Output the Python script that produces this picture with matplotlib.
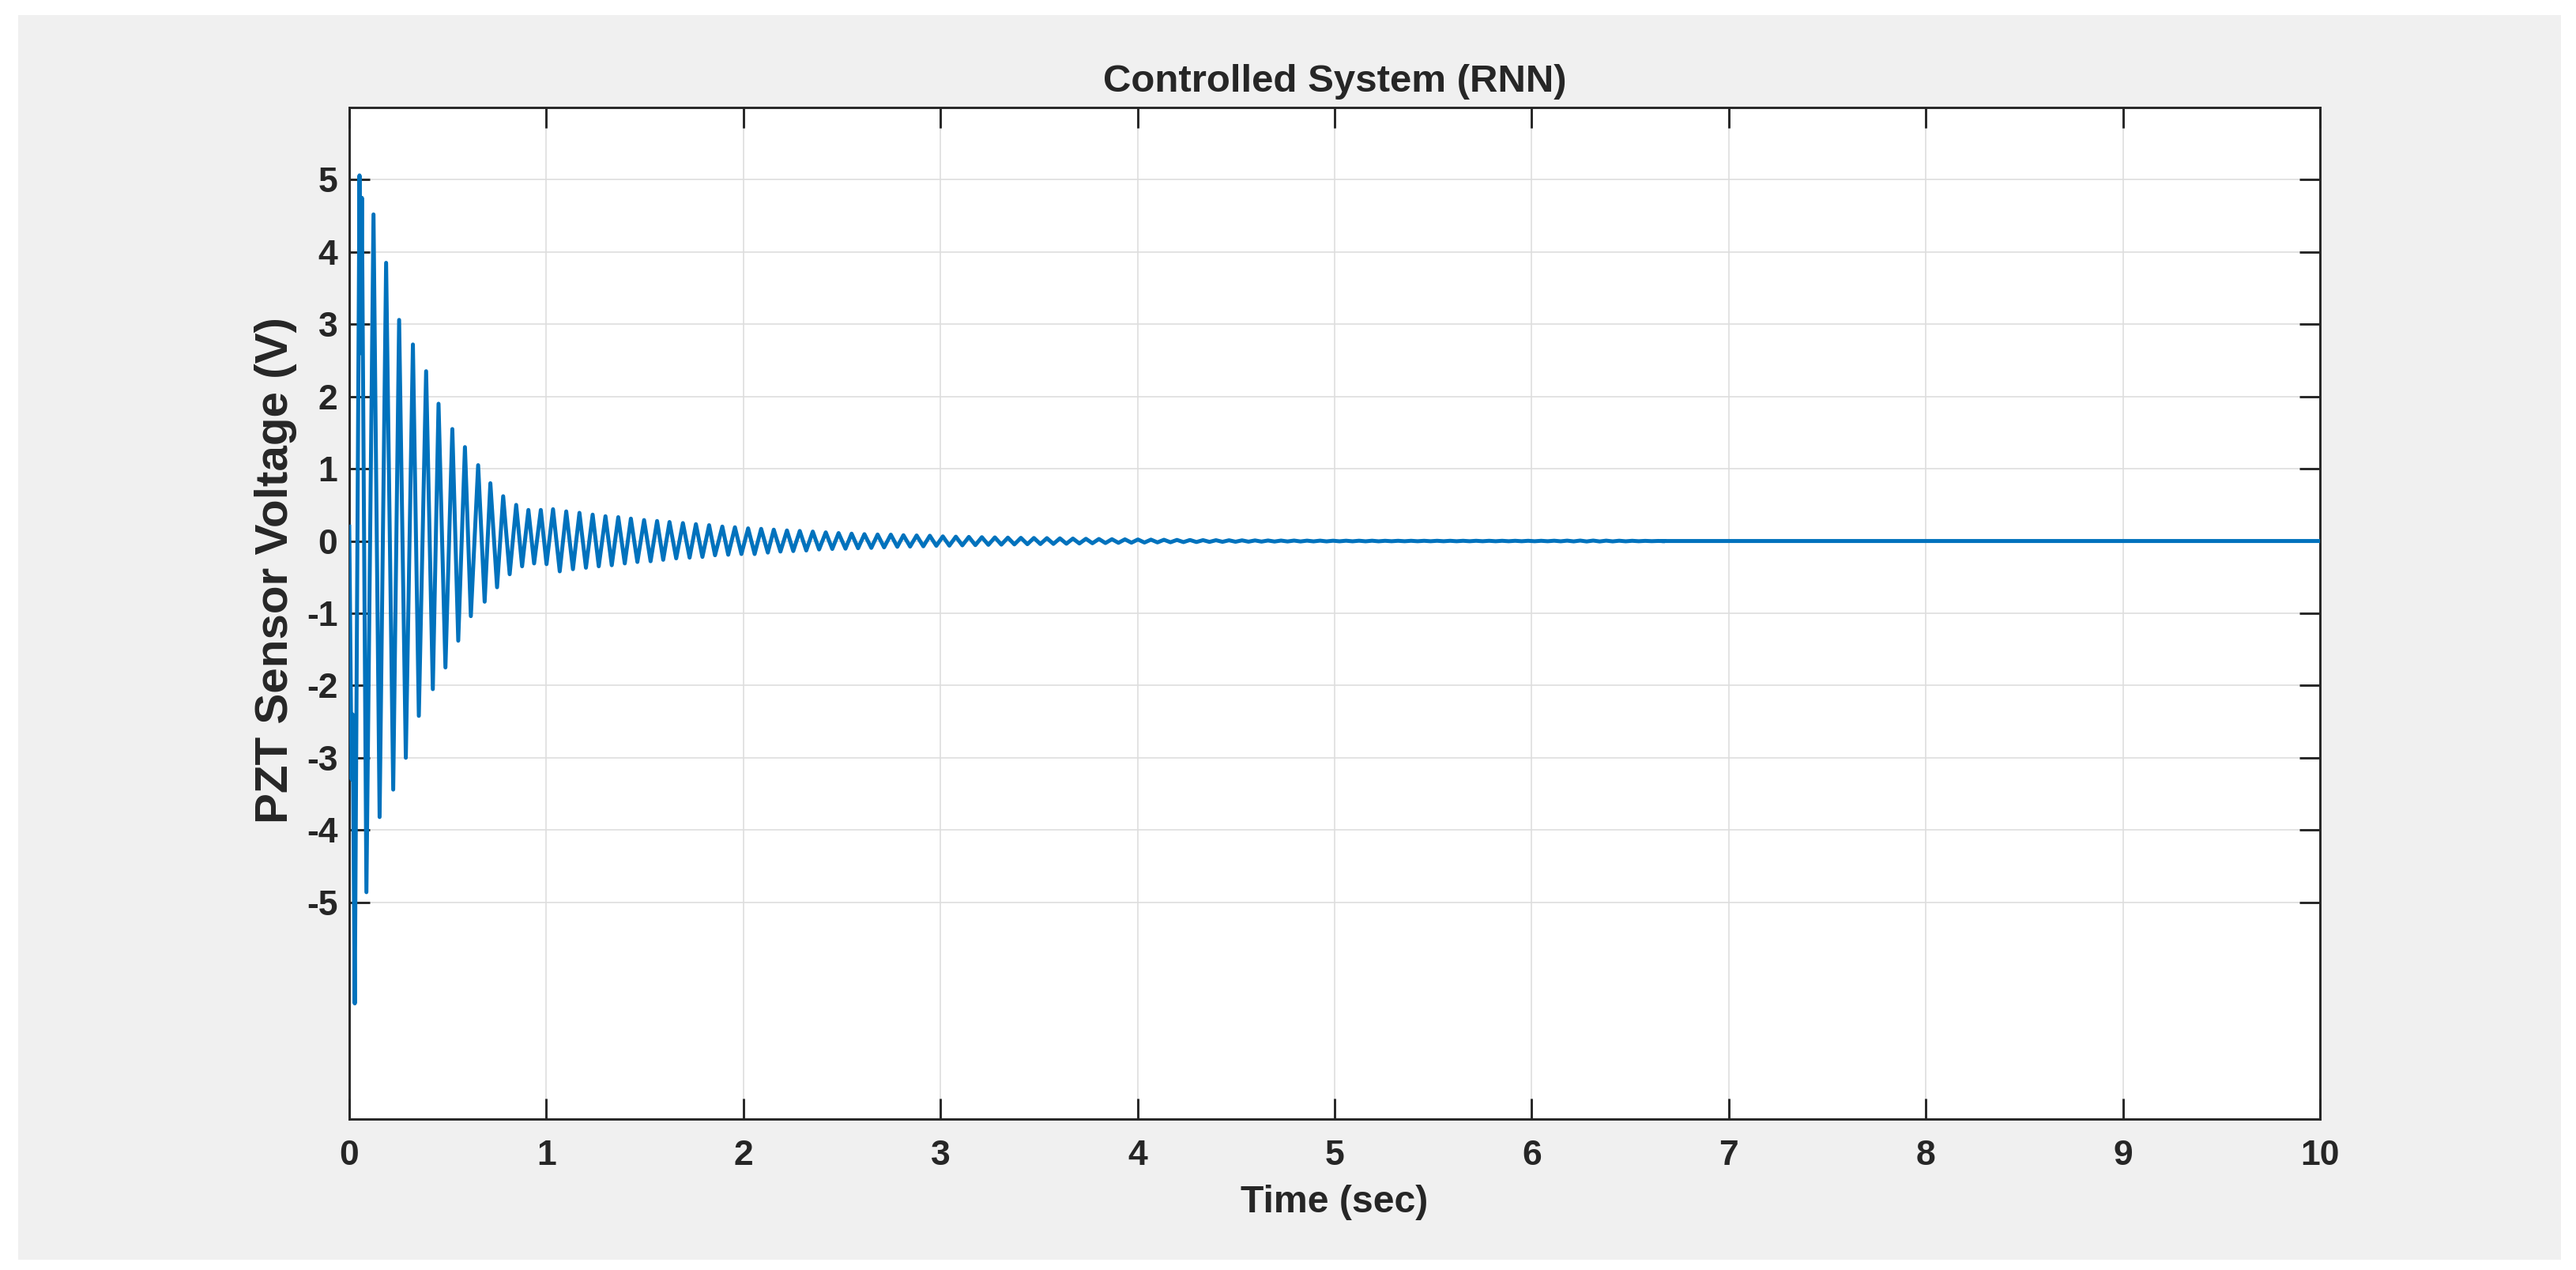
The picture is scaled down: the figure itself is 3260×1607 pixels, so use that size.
import numpy as np
import matplotlib
matplotlib.use('Agg')
import matplotlib.pyplot as plt
from matplotlib.patches import Rectangle

# ---------------- data ----------------
title_text = "Controlled System (RNN)"
x_label = "Time (sec)"
y_label = "PZT Sensor Voltage (V)"
x_ticks = [0, 1, 2, 3, 4, 5, 6, 7, 8, 9, 10]
y_ticks = [-5, -4, -3, -2, -1, 0, 1, 2, 3, 4, 5]
x_range = (0, 10)
y_range = (-8, 6)

# successive extremes of the response for 0 - 3 s (time [s], voltage [V])
early_t = [0.000, 0.012, 0.017, 0.028, 0.052, 0.058, 0.064, 0.087, 0.123, 0.154,
           0.187, 0.223, 0.253, 0.287, 0.323, 0.353, 0.390, 0.424, 0.453, 0.488,
           0.523, 0.553, 0.587, 0.617, 0.654, 0.687, 0.716, 0.750, 0.781, 0.814,
           0.847, 0.877, 0.909, 0.938, 0.972, 1.001, 1.034, 1.068, 1.101, 1.135,
           1.168, 1.201, 1.235, 1.266, 1.300, 1.332, 1.365, 1.398, 1.429, 1.462,
           1.496, 1.529, 1.562, 1.593, 1.625, 1.659, 1.693, 1.727, 1.759, 1.792,
           1.826, 1.856, 1.893, 1.923, 1.957, 1.990, 2.024, 2.057, 2.090, 2.124,
           2.154, 2.188, 2.221, 2.253, 2.286, 2.319, 2.352, 2.384, 2.418, 2.451,
           2.483, 2.518, 2.549, 2.582, 2.614, 2.649, 2.681, 2.714, 2.748, 2.781,
           2.812, 2.846, 2.879, 2.913, 2.946, 2.979]
early_v = [0.20, -3.30, -2.40, -6.40, 5.06, 2.60, 4.75, -4.86, 4.52, -3.82,
           3.85, -3.44, 3.06, -3.00, 2.72, -2.42, 2.35, -2.05, 1.90, -1.75,
           1.55, -1.38, 1.30, -1.04, 1.05, -0.84, 0.80, -0.64, 0.62, -0.46,
           0.50, -0.35, 0.43, -0.31, 0.43, -0.32, 0.44, -0.42, 0.41, -0.39,
           0.39, -0.37, 0.365, -0.35, 0.343, -0.335, 0.33, -0.31, 0.31, -0.29,
           0.29, -0.28, 0.277, -0.26, 0.263, -0.24, 0.248, -0.23, 0.233, -0.22,
           0.219, -0.197, 0.20, -0.19, 0.19, -0.18, 0.175, -0.18, 0.168, -0.16,
           0.157, -0.146, 0.146, -0.139, 0.139, -0.131, 0.131, -0.117, 0.12, -0.11,
           0.11, -0.106, 0.102, -0.10, 0.095, -0.095, 0.09, -0.088, 0.088, -0.08,
           0.08, -0.077, 0.077, -0.073, 0.073, -0.066]

# tail (3 s onwards): oscillation half-period
tail_start = 3.012
tail_half_period = 0.033
tail_amp = [0.064, 0.060, 0.057, 0.053, 0.050, 0.047, 0.044, 0.042,
            0.040, 0.037, 0.034, 0.031, 0.028, 0.025, 0.023, 0.021,
            0.019, 0.017, 0.015, 0.014, 0.012, 0.011, 0.010,
            0.009, 0.008, 0.007, 0.006, 0.006, 0.005, 0.005, 0.004,
            0.004, 0.004, 0.004, 0.003, 0.003, 0.003, 0.003,
            0.003, 0.003, 0.003, 0.003, 0.003, 0.003, 0.003, 0.003,
            0.003, 0.004, 0.005, 0.006, 0.006, 0.005, 0.004, 0.003, 0.002, 0.001]
settle_t = 6.66
end_t = 10.0

# ---------------- assemble the trace ----------------
tail_t, tail_v = [], []
for i, a in enumerate(tail_amp):
    tail_t += [tail_start + 2 * i * tail_half_period, tail_start + (2 * i + 1) * tail_half_period]
    tail_v += [a, -a]
t = np.array(early_t + tail_t + [settle_t, end_t])
v = np.array(early_v + tail_v + [0.0, 0.0])

# ---------------- style ----------------
plt.rcParams['font.family'] = ['Liberation Sans', 'DejaVu Sans']
plt.rcParams['font.weight'] = 'bold'
txt = '#262626'
W, H = 3260, 1607
dpi = 300
fig = plt.figure(figsize=(W / dpi, H / dpi), dpi=dpi, facecolor='white')
fig.patches.append(Rectangle((23 / W, 1 - 1594 / H), (3241 - 23) / W, (1594 - 19) / H,
                             transform=fig.transFigure, facecolor='#F0F0F0',
                             edgecolor='none', zorder=-10))

left, right, top, bottom = 442, 2936, 136, 1416
ax = fig.add_axes([left / W, 1 - bottom / H, (right - left) / W, (bottom - top) / H])
ax.set_facecolor('white')

ax.plot(t, v, color='#0072BD', lw=1.2, zorder=3)

ax.set_xlim(*x_range)
ax.set_ylim(*y_range)
ax.set_xticks(x_ticks)
ax.set_yticks(y_ticks)
ax.set_xticklabels([str(x) for x in x_ticks])
ax.set_yticklabels([str(y) for y in y_ticks])

ax.grid(True, color='#DEDEDE', lw=0.4, zorder=0)
ax.set_axisbelow(True)
for s in ax.spines.values():
    s.set_color(txt)
    s.set_linewidth(0.7)
ax.tick_params(axis='both', direction='in', length=6.2, width=0.7, color=txt,
               labelcolor=txt, labelsize=10.7, top=True, right=True)
ax.tick_params(axis='x', pad=6.3)
ax.tick_params(axis='y', pad=3.5)
for lab in ax.get_xticklabels() + ax.get_yticklabels():
    lab.set_fontweight('bold')

ax.text(0.5, 1 + (136 - 104) / (bottom - top), title_text, transform=ax.transAxes,
        ha='center', va='center', fontsize=11.8, fontweight='bold', color=txt)
ax.set_xlabel(x_label, fontsize=11.6, fontweight='bold', color=txt, va='center')
ax.xaxis.set_label_coords(0.5, -(1522 - bottom) / (bottom - top))
ax.set_ylabel(y_label, fontsize=14, fontweight='bold', color=txt, va='center')
ax.yaxis.set_label_coords(-(left - 349) / (right - left), (bottom - 722) / (bottom - top))

fig.savefig('out.png', dpi=dpi, facecolor='white')
